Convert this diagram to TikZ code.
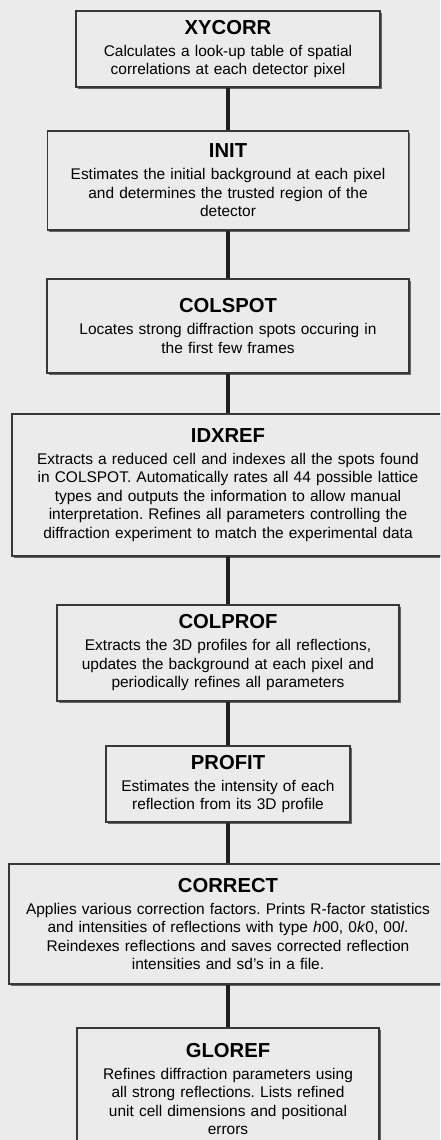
\documentclass[tikz,border=0pt]{standalone}
\usepackage{fontspec}
\setmainfont{Liberation Sans}
\usepackage{tikz}
\usetikzlibrary{shadows}
\definecolor{paper}{HTML}{EBEBEB}
\definecolor{boxline}{HTML}{383838}
\frenchspacing
\newcommand{\steptitle}[1]{{\fontsize{14.4}{16}\selectfont\bfseries #1}\\[2.4pt]}

\begin{document}
\begin{tikzpicture}[font=\fontsize{11}{13.2}\selectfont]
        \tikzstyle{stage} = [draw=boxline, fill=paper, line width=0.8pt, align=center, inner xsep=0.15cm, inner ysep=0pt, drop shadow={shadow xshift=1.4pt, shadow yshift=-1.4pt, fill=black!60, opacity=1}]
        \tikzstyle{link} = [line width=2.8pt, draw=black!88]
        \clip (0,0) rectangle (11,-28.5);
        \fill[paper] (0,0) rectangle (11,-28.5);
        \node[stage, text width=7.3cm, minimum height=1.9cm] (xycorr) at (5.7,-1.225) {\steptitle{XYCORR}Calculates a look-up table of spatial\\correlations at each detector pixel};
        \node[stage, text width=8.725cm, minimum height=2.475cm] (init) at (5.7,-4.5125) {\steptitle{INIT}Estimates the initial background at each pixel\\and determines the trusted region of the\\detector};
        \node[stage, text width=8.75cm, minimum height=2.35cm] (colspot) at (5.7,-8.15) {\steptitle{COLSPOT}Locates strong diffraction spots occuring in\\the first few frames};
        \node[stage, text width=10.5cm, minimum height=3.55cm] (idxref) at (5.7,-12.125) {\steptitle{IDXREF}Extracts a reduced cell and indexes all the spots found\\in COLSPOT. Automatically rates all 44 possible lattice\\types and outputs the information to allow manual\\interpretation. Refines all parameters controlling the\\diffraction experiment to match the experimental data};
        \node[stage, text width=8.25cm, minimum height=2.4cm] (colprof) at (5.7,-16.325) {\steptitle{COLPROF}Extracts the 3D profiles for all reflections,\\updates the background at each pixel and\\periodically refines all parameters};
        \node[stage, text width=5.8cm, minimum height=1.9cm] (profit) at (5.7,-19.6) {\steptitle{PROFIT}Estimates the intensity of each\\reflection from its 3D profile};
        \node[stage, text width=10.65cm, minimum height=3.0cm] (correct) at (5.7,-23.1) {\steptitle{CORRECT}Applies various correction factors. Prints R-factor statistics\\and intensities of reflections with type \textit{h}00, 0\textit{k}0, 00\textit{l}.\\Reindexes reflections and saves corrected reflection\\intensities and sd's in a file.};
        \node[stage, text width=7.25cm, minimum height=3.05cm] (gloref) at (5.7,-27.225) {\steptitle{GLOREF}Refines diffraction parameters using\\all strong reflections. Lists refined\\unit cell dimensions and positional\\errors};
        \path[link]
        (xycorr) edge (init)
        (init) edge (colspot)
        (colspot) edge (idxref)
        (idxref) edge (colprof)
        (colprof) edge (profit)
        (profit) edge (correct)
        (correct) edge (gloref);
    \end{tikzpicture}
\end{document}
